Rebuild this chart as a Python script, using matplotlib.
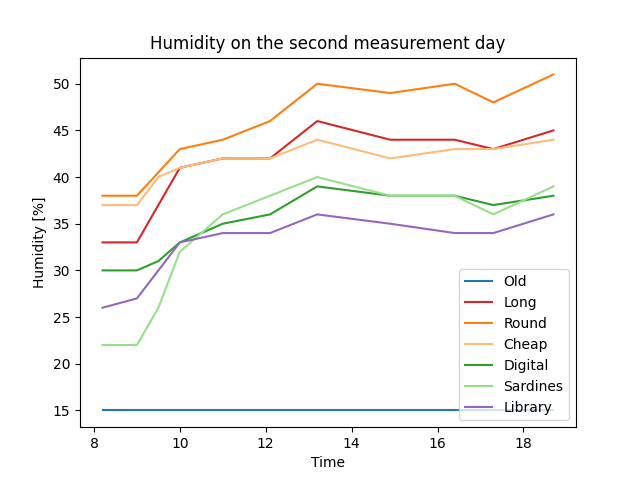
import matplotlib
matplotlib.use("Agg")
import matplotlib.pyplot as plt

# Zeitpunkte der Messungen
time = [8.2, 9.0, 9.5, 10.0, 11.0, 12.1, 13.2, 14.9, 16.4, 17.3, 18.7]

old = [15, 15, 15, 15, 15, 15, 15, 15, 15, 15, 15]
long_ = [33, 33, 37, 41, 42, 42, 46, 44, 44, 43, 45]
round_ = [38, 38, 40.5, 43, 44, 46, 50, 49, 50, 48, 51]
cheap = [37, 37, 40, 41, 42, 42, 44, 42, 43, 43, 44]
digital = [30, 30, 31, 33, 35, 36, 39, 38, 38, 37, 38]
sardines = [22, 22, 26, 32, 36, 38, 40, 38, 38, 36, 39]
library = [26, 27, 30, 33, 34, 34, 36, 35, 34, 34, 36]

series = [
    ("Old", old, "tab:blue"),
    ("Long", long_, "tab:red"),
    ("Round", round_, "tab:orange"),
    ("Cheap", cheap, "#ffbb78"),
    ("Digital", digital, "tab:green"),
    ("Sardines", sardines, "#98df8a"),
    ("Library", library, "tab:purple"),
]

fig, ax = plt.subplots(figsize=(6.4, 4.8), dpi=100)
for name, vals, col in series:
    ax.plot(time, vals, color=col, label=name)

ax.set_title("Humidity on the second measurement day")
ax.set_xlabel("Time")
ax.set_ylabel("Humidity [%]")
ax.legend(loc="lower right")
fig.savefig("out.png")
